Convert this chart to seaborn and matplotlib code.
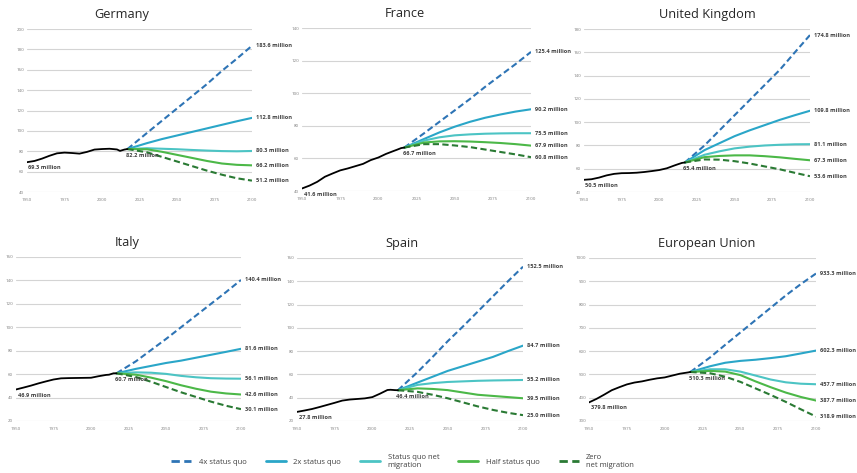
import matplotlib
matplotlib.use("Agg")
import matplotlib.pyplot as plt
import seaborn as sns
import pandas as pd

sns.set_style("white")
plt.rcParams["font.family"] = ["Open Sans", "DejaVu Sans"]

COUNTRIES = ["Germany", "France", "United Kingdom", "Italy", "Spain", "European Union"]

HIST_YEARS = [1950, 1955, 1960, 1965, 1970, 1975, 1980, 1985, 1990, 1995,
              2000, 2005, 2010, 2012, 2015, 2017]
PROJ_YEARS = [2017, 2030, 2040, 2050, 2060, 2070, 2080, 2090, 2100]

SCENARIOS = ["4x status quo", "2x status quo", "Status quo net\nmigration",
             "Half status quo", "Zero\nnet migration"]

# population in millions
hist_germany = [69.3, 70.5, 72.8, 75.6, 78.0, 78.7, 78.3, 77.7, 79.4, 81.7, 82.2, 82.5, 81.8, 80.4, 81.7, 82.2]
hist_france = [41.6, 43.4, 45.7, 48.8, 50.8, 52.7, 53.9, 55.3, 56.7, 59.0, 60.6, 62.8, 64.6, 65.3, 66.4, 66.7]
hist_uk = [50.5, 51.0, 52.4, 54.3, 55.6, 56.2, 56.3, 56.6, 57.2, 58.0, 58.9, 60.4, 62.8, 63.7, 65.0, 65.4]
hist_italy = [46.9, 48.5, 50.2, 52.1, 53.8, 55.4, 56.4, 56.6, 56.7, 56.8, 56.9, 58.2, 59.3, 59.5, 60.7, 60.7]
hist_spain = [27.8, 29.0, 30.3, 32.0, 33.8, 35.6, 37.5, 38.4, 38.9, 39.4, 40.5, 43.4, 46.6, 46.8, 46.5, 46.4]
hist_eu = [379.8, 395, 413, 432, 445, 457, 465, 470, 477, 483, 487, 495, 503, 505, 508, 510.3]

proj_germany = [
    [82.2, 98, 110, 122, 134, 146, 159, 171, 183.6],
    [82.2, 88, 92, 95.5, 99, 102.5, 106, 109.5, 112.8],
    [82.2, 83, 82.5, 82, 81.3, 80.7, 80.2, 80, 80.3],
    [82.2, 82, 79.5, 76.5, 73.5, 70.5, 68, 66.7, 66.2],
    [82.2, 79, 74.5, 70, 65.5, 61, 57, 53.5, 51.2],
]
proj_france = [
    [66.7, 75.5, 82.5, 89.5, 96.5, 104, 111, 118, 125.4],
    [66.7, 72, 76, 79.5, 82.5, 85, 87, 88.8, 90.2],
    [66.7, 71, 73, 74.2, 74.8, 75.2, 75.4, 75.5, 75.5],
    [66.7, 69.8, 70.5, 70.6, 70.4, 70, 69.5, 68.8, 67.9],
    [66.7, 68.8, 68.8, 68, 67, 65.5, 64, 62.5, 60.8],
]
proj_uk = [
    [65.4, 80, 93, 106, 119, 132, 145, 160, 174.8],
    [65.4, 76, 82, 88, 93, 97.5, 102, 106, 109.8],
    [65.4, 72, 75, 77.5, 79, 80, 80.6, 81, 81.1],
    [65.4, 70, 71, 71.5, 71.5, 70.8, 69.8, 68.5, 67.3],
    [65.4, 68, 67.8, 66.5, 64.5, 62, 59.5, 56.5, 53.6],
]
proj_italy = [
    [60.7, 71, 80.5, 90, 100, 110, 120, 130, 140.4],
    [60.7, 64.5, 67, 69.5, 71.5, 74, 76.5, 79, 81.6],
    [60.7, 61.5, 61.2, 60.2, 58.5, 57.3, 56.5, 56.2, 56.1],
    [60.7, 59.5, 57, 54, 50.5, 47.5, 45, 43.5, 42.6],
    [60.7, 57.5, 53.5, 49, 44.5, 40.5, 36.5, 33, 30.1],
]
proj_spain = [
    [46.4, 62, 75, 88.5, 101, 114, 127, 140, 152.5],
    [46.4, 53, 58, 63, 67, 71, 75, 80, 84.7],
    [46.4, 51, 52.5, 53.5, 54, 54.5, 54.8, 55, 55.2],
    [46.4, 48, 47.5, 46.5, 44.5, 42.5, 41.5, 40.5, 39.5],
    [46.4, 45, 42.5, 39.5, 36, 32.5, 29.5, 27, 25.0],
]
proj_eu = [
    [510.3, 573, 627, 680, 733, 786, 839, 888, 933.3],
    [510.3, 535, 550, 558, 563, 570, 578, 590, 602.3],
    [510.3, 522, 522, 512, 495, 478, 466, 460, 457.7],
    [510.3, 515, 512, 497, 470, 445, 422, 403, 387.7],
    [510.3, 505, 490, 468, 440, 412, 382, 350, 318.9],
]

HIST = [hist_germany, hist_france, hist_uk, hist_italy, hist_spain, hist_eu]
PROJ = [proj_germany, proj_france, proj_uk, proj_italy, proj_spain, proj_eu]
YLIMS = [(40, 200, 20), (40, 140, 20), (40, 180, 20), (20, 160, 20), (20, 160, 20), (300, 1000, 100)]

colors = ["#2e74b5", "#2aa6c8", "#4cc4c4", "#4cb848", "#2a7a34"]
dashed = [True, False, False, False, True]

# axes boxes in figure fractions (left, bottom, width, height)
boxes = [
    (0.0315, 0.594, 0.2625, 0.3446),
    (0.3524, 0.596, 0.2672, 0.3446),
    (0.6814, 0.594, 0.2637, 0.3446),
    (0.0187, 0.110, 0.2625, 0.3467),
    (0.3466, 0.110, 0.2637, 0.3446),
    (0.6873, 0.110, 0.2649, 0.3446),
]
title_x = [0.42, 0.45, 0.544, 0.493, 0.465, 0.52]

fig = plt.figure(figsize=(8.57, 4.73), dpi=100)
txt = "#404040"

for i, name in enumerate(COUNTRIES):
    ax = fig.add_axes(boxes[i])
    hist = pd.DataFrame({"year": HIST_YEARS, "pop": HIST[i]})
    for j, scen in enumerate(SCENARIOS):
        d = pd.DataFrame({"year": PROJ_YEARS, "pop": PROJ[i][j]})
        ls = (0, (3, 1.6)) if dashed[j] else "-"
        sns.lineplot(data=d, x="year", y="pop", ax=ax, color=colors[j],
                     linewidth=1.5, linestyle=ls, zorder=3)
        ax.annotate(f"{PROJ[i][j][-1]:.1f} million", xy=(2100, PROJ[i][j][-1]),
                    xytext=(3, 0), textcoords="offset points", va="center",
                    ha="left", fontsize=4.1, fontweight="bold", color=txt,
                    annotation_clip=False)
    sns.lineplot(data=hist, x="year", y="pop", ax=ax, color="black",
                 linewidth=1.3, zorder=4)
    ax.annotate(f"{HIST[i][0]:.1f} million", xy=(1951, HIST[i][0]), xytext=(0, -4),
                textcoords="offset points", va="center", ha="left", fontsize=4.1,
                fontweight="bold", color=txt)
    ax.annotate(f"{HIST[i][-1]:.1f} million", xy=(2016, HIST[i][-1]), xytext=(0, -4.5),
                textcoords="offset points", va="center", ha="left", fontsize=4.1,
                fontweight="bold", color=txt)

    lo, hi, step = YLIMS[i]
    ax.set_xlim(1950, 2100)
    ax.set_ylim(lo, hi)
    ax.set_xticks([1950, 1975, 2000, 2025, 2050, 2075, 2100])
    ax.set_yticks(list(range(lo, hi + 1, step)))
    ax.tick_params(axis="both", labelsize=3.2, colors="#808080", length=0, pad=2)
    ax.tick_params(axis="x", pad=4)
    ax.grid(axis="y", color="#d4d4d4", linewidth=0.8)
    ax.set_axisbelow(True)
    for s in ax.spines.values():
        s.set_visible(False)
    ax.set_xlabel("")
    ax.set_ylabel("")
    ax.set_title(name, fontsize=9.2, color="#262626", pad=8, x=title_x[i])

handles = [plt.Line2D([], [], color=colors[j], linewidth=2,
                      linestyle=(0, (3, 1.6)) if dashed[j] else "-")
           for j in range(len(SCENARIOS))]
fig.legend(handles, SCENARIOS, loc="center", bbox_to_anchor=(0.47, 1 - 461 / 473),
           ncol=5, frameon=False, fontsize=5.5, handlelength=2.6,
           handletextpad=1.0, columnspacing=2.5, labelcolor=txt)

fig.savefig("out.png", dpi=100)
